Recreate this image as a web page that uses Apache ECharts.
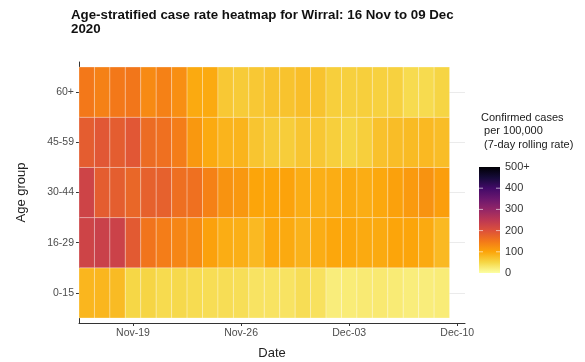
<!DOCTYPE html>
<html>
<head>
<meta charset="utf-8">
<script src="https://cdn.jsdelivr.net/npm/echarts@6/dist/echarts.min.js"></script>
<style>
  html, body { margin: 0; background: #fff; }
  #chart { width: 585px; height: 362px; }
</style>
</head>
<body>
<div id="chart"></div>
<script>
// age bands, bottom to top
const ageGroups = ['0-15', '16-29', '30-44', '45-59', '60+'];

const dates = [
  '2020-11-16', '2020-11-17', '2020-11-18', '2020-11-19', '2020-11-20', '2020-11-21',
  '2020-11-22', '2020-11-23', '2020-11-24', '2020-11-25', '2020-11-26', '2020-11-27',
  '2020-11-28', '2020-11-29', '2020-11-30', '2020-12-01', '2020-12-02', '2020-12-03',
  '2020-12-04', '2020-12-05', '2020-12-06', '2020-12-07', '2020-12-08', '2020-12-09'
];

// 7-day rolling rate per 100,000
const rate0to15 = [83, 83, 78, 50, 52, 45, 47, 44, 42, 42, 41, 35, 35, 35, 42, 37, 22, 24, 26, 27, 25, 22, 22, 24];
const rate16to29 = [225, 230, 228, 188, 155, 145, 135, 128, 105, 92, 90, 80, 97, 95, 87, 92, 98, 98, 95, 95, 100, 100, 95, 80];
const rate30to44 = [225, 185, 183, 172, 180, 180, 162, 160, 140, 120, 115, 100, 100, 102, 92, 90, 92, 95, 92, 97, 105, 112, 120, 108];
const rate45to59 = [185, 192, 185, 192, 165, 160, 145, 115, 95, 85, 85, 68, 62, 60, 68, 66, 58, 52, 58, 72, 76, 78, 80, 76];
const rate60plus = [150, 140, 150, 152, 130, 140, 125, 95, 95, 65, 62, 65, 70, 70, 75, 70, 58, 57, 58, 56, 56, 45, 45, 52];

const tickDates = ['2020-11-19', '2020-11-26', '2020-12-03', '2020-12-10'];
const tickLabels = ['Nov-19', 'Nov-26', 'Dec-03', 'Dec-10'];

const legendTicks = [0, 100, 200, 300, 400, 500];
const legendLabels = ['0', '100', '200', '300', '400', '500+'];

// inferno, light end first
const inferno = ['#FCFFA4', '#F6D746', '#FCA50A', '#F37819', '#DD513A', '#BC3754',
  '#932667', '#6A176E', '#420A68', '#160B39', '#000004'];

const DAY = 24 * 3600 * 1000;
const dayIndex = (d) => Math.round((Date.parse(d) - Date.parse(dates[0])) / DAY);
const tickIndex = tickDates.map(dayIndex);
const rowIndex = ageGroups.map((_, i) => i);

const rows = [rate0to15, rate16to29, rate30to44, rate45to59, rate60plus];
const cells = [];
rows.forEach((values, y) => {
  values.forEach((v, x) => cells.push([x, y, v]));
});

const FONT = '"Liberation Sans", Arial, sans-serif';

// colourbar geometry
const bar = { left: 479, top: 167, width: 21, height: 106 };
const barY = (v) => bar.top + (1 - v / 500) * bar.height;

const legendGraphics = [
  {
    type: 'text', left: 481, top: 111,
    style: {
      text: 'Confirmed cases\n per 100,000\n (7-day rolling rate)',
      font: '11px ' + FONT, fill: '#1a1a1a', lineHeight: 13.5
    }
  },
  {
    type: 'rect',
    shape: { x: bar.left, y: bar.top, width: bar.width, height: bar.height },
    style: {
      fill: new echarts.graphic.LinearGradient(0, 1, 0, 0,
        inferno.map((c, i) => ({ offset: i / (inferno.length - 1), color: c })))
    }
  }
];

legendTicks.forEach((v, i) => {
  const y = barY(v);
  legendGraphics.push({
    type: 'text', x: bar.left + bar.width + 5, y: y,
    style: { text: legendLabels[i], font: '11px ' + FONT, fill: '#333', verticalAlign: 'middle' }
  });
  if (v > 0 && v < 500) {
    legendGraphics.push(
      { type: 'line', shape: { x1: bar.left, y1: y, x2: bar.left + 4, y2: y }, style: { stroke: 'rgba(255,255,255,0.6)', lineWidth: 1 } },
      { type: 'line', shape: { x1: bar.left + bar.width - 4, y1: y, x2: bar.left + bar.width, y2: y }, style: { stroke: 'rgba(255,255,255,0.6)', lineWidth: 1 } }
    );
  }
});

const chart = echarts.init(document.getElementById('chart'));

chart.setOption({
  animation: false,
  backgroundColor: '#fff',
  title: {
    text: 'Age-stratified case rate heatmap for Wirral: 16 Nov to 09 Dec\n2020',
    left: 71, top: 8, padding: 0,
    textStyle: { fontFamily: FONT, fontSize: 13.3, fontWeight: 'bold', color: '#111', lineHeight: 14 }
  },
  grid: { left: 79, right: 120, top: 62, bottom: 39, outerBoundsMode: 'none', containLabel: false },
  xAxis: {
    type: 'value',
    min: -0.5, max: 24.5,
    name: 'Date', nameLocation: 'middle', nameGap: 24,
    nameTextStyle: { fontFamily: FONT, fontSize: 13, color: '#222' },
    axisLine: { show: true, onZero: false, lineStyle: { color: '#333', width: 1 } },
    axisTick: { show: true, length: 3, customValues: tickIndex, lineStyle: { color: '#333' } },
    axisLabel: {
      customValues: tickIndex, margin: 5,
      fontFamily: FONT, fontSize: 10.5, color: '#4d4d4d',
      formatter: (v) => tickLabels[tickIndex.indexOf(Math.round(v))] || ''
    },
    splitLine: { show: false }
  },
  yAxis: {
    type: 'value',
    min: -0.6, max: 4.6,
    name: 'Age group', nameLocation: 'middle', nameGap: 51,
    nameTextStyle: { fontFamily: FONT, fontSize: 13, color: '#222' },
    axisLine: { show: true, onZero: false, lineStyle: { color: '#333', width: 1 } },
    axisTick: { show: true, length: 3, customValues: rowIndex, lineStyle: { color: '#333' } },
    axisLabel: {
      customValues: rowIndex, margin: 5,
      fontFamily: FONT, fontSize: 10.5, color: '#4d4d4d',
      formatter: (v) => ageGroups[Math.round(v)] || ''
    },
    splitLine: { show: true, lineStyle: { color: '#ebebeb', width: 1 } }
  },
  visualMap: {
    show: false, type: 'continuous', dimension: 2, min: 0, max: 500,
    seriesIndex: 0, inRange: { color: inferno }
  },
  series: [{
    type: 'custom',
    encode: { x: 0, y: 1 },
    data: cells,
    renderItem: (params, api) => {
      const x = api.value(0);
      const y = api.value(1);
      const a = api.coord([x - 0.5, y + 0.5]);
      const b = api.coord([x + 0.5, y - 0.5]);
      return {
        type: 'rect',
        shape: { x: a[0], y: a[1], width: b[0] - a[0], height: b[1] - a[1] },
        style: { fill: api.visual('color'), stroke: 'rgba(255,255,255,0.35)', lineWidth: 0.8 }
      };
    }
  }],
  graphic: legendGraphics
});
</script>
</body>
</html>
